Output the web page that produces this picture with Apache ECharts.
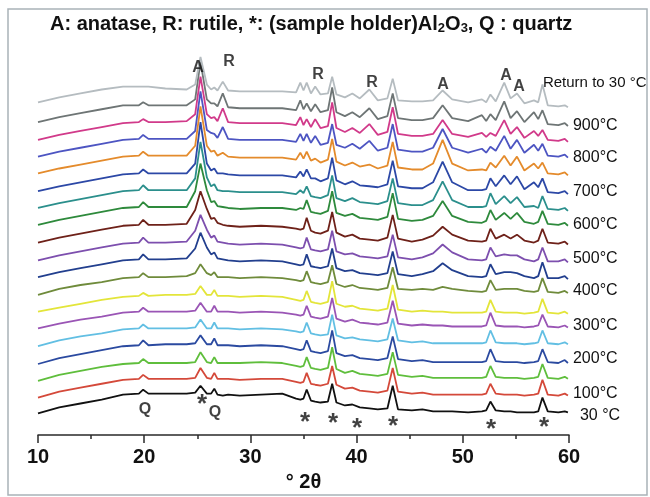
<!DOCTYPE html>
<html><head><meta charset="utf-8">
<script src="https://cdn.jsdelivr.net/npm/echarts@6/dist/echarts.min.js"></script>
<style>html,body{margin:0;padding:0;background:#fff}#c{width:650px;height:497px}</style>
</head><body><div id="c"></div>
<script>
// 2θ sampling positions (degrees)
const twoTheta = [10,12,14,16,18,19.5,19.9,20.4,22,24,24.8,25.3,25.9,26.3,26.6,26.9,27.4,27.9,29,31,33,34.3,34.7,35.0,35.3,35.7,36.1,36.6,37.3,37.7,38.1,38.9,39.6,40.3,41.2,42.0,42.9,43.4,43.9,45.2,46.2,47.2,48.1,49.0,50.5,51.8,52.2,52.6,53.1,53.9,54.5,55.1,55.8,56.7,57.1,57.5,58.0,59.0,59.6,59.9];

const seriesNames = ['30 °C','100 °C','150 °C','200 °C','250 °C','300 °C','350 °C','400 °C','450 °C','500 °C','550 °C','600 °C','650 °C','700 °C','750 °C','800 °C','850 °C','900 °C','Return to 30 °C'];
const endLabels = ['30 °C','100°C','','200°C','','300°C','','400°C','','500°C','','600°C','','700°C','','800°C','','900°C','Return to 30 °C'];
// vertical stacking offsets (a.u.)
const offsets = [23,40,57,73,92,109,123,144,158,175,193,212,227,244,263,281,297,313,332];

// intensities (a.u., relative to each pattern's offset)
const i30 = [-1,5,9,13,18,19,23,19,19,19, 20,27,19,19,24,18,17,18,17,18, 19,14,13,14,23,12,11,10,11,29, 10,7,8,5,4,3,4,27,3,2, 3,1,1,1,0,1,2,11,2,1, 1,0,0,0,1,15,1,0,1,0];
const i100 = [-2,4,8,12,16,17,21,17,17,17, 18,28,18,17,23,17,17,17,16,17, 17,14,13,14,23,12,11,10,12,30, 11,7,8,5,4,3,5,28,4,2, 3,1,1,1,1,1,2,12,2,1, 1,1,0,1,2,16,1,0,2,0];
const i150 = [-2,4,8,12,15,16,20,16,16,16, 17,27,17,16,22,16,16,16,16,17, 16,13,12,13,22,11,10,9,11,32, 10,6,8,5,4,3,5,27,4,2, 3,1,1,1,1,1,2,13,2,1, 1,1,0,1,2,15,1,0,2,0];
const i200 = [-1,5,9,13,17,18,23,18,19,19, 20,28,19,19,25,18,18,18,17,18, 17,14,13,14,23,12,11,10,12,33, 10,7,8,5,4,3,5,27,4,2, 3,1,1,1,1,1,2,14,2,1, 1,1,0,1,2,14,1,0,3,0];
const i250 = [-2,4,8,11,15,16,20,16,16,16, 17,25,16,16,22,16,16,16,15,16, 15,13,12,13,22,11,10,9,10,30, 9,6,7,5,4,3,5,26,4,2, 3,1,1,1,1,1,2,14,2,1, 1,1,0,1,2,14,1,0,2,0];
const i300 = [-1,4,8,11,15,16,20,16,16,16, 17,25,16,16,22,16,16,16,15,16, 15,13,12,13,22,11,10,9,11,30, 9,6,8,5,4,3,5,27,4,2, 3,2,2,1,1,1,2,15,2,1, 1,1,0,1,2,13,1,0,2,0];
const i350 = [2,6,10,14,17,18,21,18,19,19, 20,28,19,19,24,18,18,18,17,18, 17,14,13,14,23,12,11,10,12,33, 10,7,8,5,4,3,5,29,4,2, 3,2,2,1,1,1,2,14,2,1, 1,1,0,1,2,15,1,0,2,0];
const i400 = [-2,4,8,11,15,16,20,16,16,17, 20,29,20,18,21,16,16,16,15,16, 15,13,12,13,22,11,10,9,11,28, 9,6,8,5,4,3,5,26,4,3, 4,3,6,4,2,1,2,13,3,4, 4,4,2,1,2,15,1,0,2,0];
const i450 = [2,7,11,15,19,20,25,20,20,21, 31,47,32,25,27,21,20,19,18,19, 18,15,14,15,25,13,12,11,13,31, 11,8,9,6,5,4,6,28,5,3, 5,8,16,9,3,2,3,15,5,7, 7,6,3,1,3,17,1,1,3,0];
const i500 = [2,7,11,15,19,20,25,20,20,21, 32,48,33,25,27,21,20,19,18,19, 18,15,14,15,25,13,12,11,13,32, 11,8,9,6,5,4,6,28,5,3, 5,9,18,10,3,2,3,15,6,8, 7,7,3,1,3,15,1,1,3,0];
const i550 = [2,7,11,15,19,20,25,20,20,21, 35,54,36,26,27,22,20,19,18,19, 18,16,15,16,27,14,12,11,14,33, 12,8,10,6,5,4,7,30,6,3, 5,9,18,10,4,3,4,16,6,10, 6,10,4,2,4,16,2,1,3,0];
const i600 = [1,6,10,14,18,19,24,19,19,19, 35,63,36,24,25,20,19,18,17,18, 18,16,18,17,26,14,13,12,15,35, 13,10,12,8,7,6,9,33,7,5, 6,10,25,10,4,3,5,16,6,13, 7,13,4,2,4,15,2,1,3,0];
const i650 = [3,8,12,16,20,21,26,21,21,21, 33,70,34,25,27,21,20,20,19,19, 19,17,21,18,25,15,14,13,16,36, 13,10,13,9,8,7,10,33,8,6, 6,11,30,11,4,4,5,18,7,15, 8,14,4,5,3,15,2,1,3,0];
const i700 = [3,8,12,16,20,21,25,21,21,21, 31,73,31,24,26,21,21,20,19,19, 19,17,23,18,25,16,16,13,16,37, 14,10,13,9,8,7,10,34,8,6, 6,12,33,12,4,4,5,16,8,19, 10,18,5,12,7,16,2,1,3,0];
const i750 = [2,7,11,15,19,20,24,20,20,20, 30,70,30,24,25,20,23,19,18,18, 18,16,23,17,24,15,17,13,16,37, 14,10,13,9,11,7,10,34,8,6, 6,12,36,12,5,6,5,13,8,20, 10,19,5,12,7,13,2,1,3,0];
const i800 = [1,6,10,14,18,19,23,19,19,19, 27,67,28,25,24,20,31,19,18,18, 18,16,24,17,24,15,22,13,15,34, 13,10,14,9,17,7,10,34,8,6, 6,10,29,10,5,9,5,11,7,22, 9,18,5,13,7,14,2,1,3,0];
const i850 = [2,7,11,15,19,20,23,20,20,21, 28,66,28,24,25,21,34,20,19,19, 19,17,25,17,23,15,23,14,16,40, 14,10,14,9,18,7,10,35,8,6, 6,8,22,8,5,9,5,9,6,22, 8,15,4,11,6,12,2,1,3,0];
const i900 = [4,9,13,17,21,21,24,21,21,21, 27,65,27,23,23,20,33,19,18,18, 18,16,26,17,23,15,22,14,16,39, 14,10,14,9,18,7,10,33,8,6, 6,8,21,8,5,11,5,12,6,25, 8,15,4,14,7,16,2,1,3,0];
const iReturn = [5,10,14,18,21,21,21,21,19,18, 23,51,23,18,20,17,26,17,16,16, 16,15,25,17,25,14,21,13,14,31, 13,10,14,9,18,7,9,29,7,6, 6,7,17,8,5,8,5,13,6,25, 9,14,4,7,5,23,2,1,2,0];

// peak labels above the top pattern
const peakLetters = ['A','R','R','R','A','A','A'];
const peakLetterX = [25.07,27.98,36.37,41.45,48.13,54.07,55.29];
const peakLetterY = [372,378,365,357,355,364,353];
// quartz and sample-holder markers under the bottom pattern
const quartzX = [20.08,26.67];
const quartzY = [26,23];
const holderX = [25.44,35.14,37.78,40.04,43.43,52.66,57.65];
const holderY = [37,19,17,12,14,11,13];

const colors = ['#111111','#d4493a','#5fbe3c','#2b4aa0','#62bfe3','#9a55b5','#e3e53a','#6f8b3b','#223f8e','#7d4fae','#6e2119','#2e8a3c','#2b8f8c','#2c48a6','#e48b2c','#4d55c2','#d13a8a','#6e7575','#b5bcc0'];
const labelOffsets = {0:[7,3],1:[0,-2],3:[0,-4],5:[0,-2],7:[0,-2],9:[0,-4],11:[0,-1],13:[0,-3],15:[0,0],17:[0,0],18:[-30,-24]};

const profiles = [i30,i100,i150,i200,i250,i300,i350,i400,i450,i500,i550,i600,i650,i700,i750,i800,i850,i900,iReturn];
const FONT = 'Liberation Sans, Arial, sans-serif';

const series = profiles.map((p, k) => {
  const s = {
    type: 'line', name: seriesNames[k],
    data: p.map((v, i) => [twoTheta[i], offsets[k] + v]),
    symbol: 'none', silent: true,
    lineStyle: { color: colors[k], width: 1.8 },
    itemStyle: { color: colors[k] }
  };
  if (endLabels[k]) {
    s.endLabel = { show: true, formatter: endLabels[k], color: '#111', fontSize: k === 18 ? 15 : 16, fontFamily: FONT, distance: 5, offset: labelOffsets[k] };
  }
  return s;
});

series.push({
  type: 'scatter', silent: true, symbolSize: 1, itemStyle: { color: 'rgba(0,0,0,0)' }, z: 5,
  data: peakLetters.map((t, i) => ({ name: t, value: [peakLetterX[i], peakLetterY[i]] })),
  label: { show: true, position: 'inside', formatter: '{b}', fontSize: 16, fontWeight: 'bold', color: '#111', fontFamily: FONT }
});
series.push({
  type: 'scatter', silent: true, symbolSize: 1, itemStyle: { color: 'rgba(0,0,0,0)' }, z: 5,
  data: quartzX.map((x, i) => ({ name: 'Q', value: [x, quartzY[i]] })),
  label: { show: true, position: 'inside', formatter: '{b}', fontSize: 16, fontWeight: 'bold', color: '#111', fontFamily: FONT }
});
series.push({
  type: 'scatter', silent: true, symbolSize: 1, itemStyle: { color: 'rgba(0,0,0,0)' }, z: 5,
  data: holderX.map((x, i) => ({ name: '*', value: [x, holderY[i]] })),
  label: { show: true, position: 'inside', formatter: '{b}', fontSize: 26, fontWeight: 'bold', color: '#111', fontFamily: FONT, offset: [0, 6] }
});

const chart = echarts.init(document.getElementById('c'), null, { renderer: 'canvas' });
chart.setOption({
  animation: false,
  backgroundColor: '#fff',
  textStyle: { fontFamily: FONT },
  title: {
    text: 'A: anatase, R: rutile, *: (sample holder)Al{sub|2}O{sub|3}, Q : quartz',
    left: 50, top: 13, padding: 0,
    textStyle: { fontSize: 20, fontWeight: 'bold', color: '#111', fontFamily: FONT, lineHeight: 22,
      rich: { sub: { fontSize: 13, fontWeight: 'bold', color: '#111', fontFamily: FONT, lineHeight: 10, verticalAlign: 'bottom' } } }
  },
  graphic: [{ type: 'rect', silent: true, shape: { x: 8, y: 9, width: 639, height: 486 }, style: { fill: 'none', stroke: '#a9b2b8', lineWidth: 1.5 } }],
  grid: { left: 38, right: 81, top: 50, bottom: 57 },
  xAxis: {
    type: 'value', min: 10, max: 60, interval: 10,
    name: '° 2θ', nameLocation: 'middle', nameGap: 34,
    nameTextStyle: { fontSize: 20, fontWeight: 'bold', color: '#111', fontFamily: FONT },
    axisLine: { lineStyle: { color: '#2a2a2a', width: 1.5 } },
    axisTick: { length: 8, lineStyle: { color: '#2a2a2a', width: 1.5 } },
    minorTick: { show: true, splitNumber: 2, length: 4, lineStyle: { color: '#2a2a2a', width: 1.5 } },
    splitLine: { show: false },
    axisLabel: { fontSize: 20, fontWeight: 'bold', color: '#111', margin: 12, fontFamily: FONT }
  },
  yAxis: { type: 'value', min: 0, max: 390, show: false, splitLine: { show: false } },
  series: series
});
</script></body></html>
